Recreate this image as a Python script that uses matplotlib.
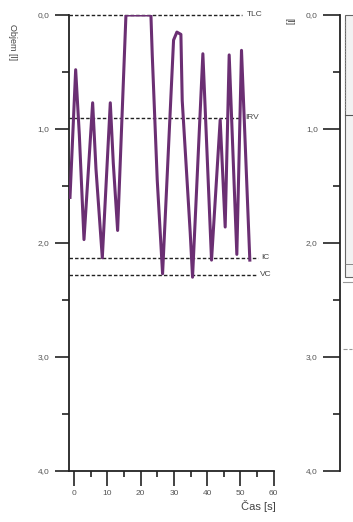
import numpy as np
import matplotlib
matplotlib.use("Agg")
import matplotlib.pyplot as plt
from matplotlib.ticker import MultipleLocator, FixedLocator
from matplotlib.patches import Rectangle

plt.rcParams['font.family'] = ['Liberation Sans', 'DejaVu Sans']

# spirogram (cas v s, objem v l, 0 = TLC)
cas = [-1.2, 0.5, 1.6, 3.0, 5.6, 6.6, 8.5, 10.9, 11.8, 13.1, 15.6,
       23.1, 23.5, 25.0, 26.6,
       29.9, 30.9, 32.1, 32.5, 34.9, 35.6, 38.7, 41.3, 43.9, 45.4,
       46.6, 48.9, 50.3, 52.8]
objem = [1.60, 0.48, 1.05, 1.97, 0.77, 1.35, 2.13, 0.77, 1.30, 1.89, 0.00,
         0.00, 0.35, 1.45, 2.27,
         0.22, 0.15, 0.17, 0.75, 1.91, 2.30, 0.34, 2.15, 0.92, 1.86,
         0.35, 2.10, 0.31, 2.15]

# referencni hladiny: nazev, objem, konec cary, pozice textu
hladiny = ["TLC", "IRV", "IC", "VC"]
hladiny_objem = [0.0, 0.90, 2.13, 2.28]
hladiny_konec = [50.5, 49.8, 55.3, 55.0]
hladiny_text = [52.0, 51.4, 56.2, 55.9]

y_popisky = ["0,0", "1,0", "2,0", "3,0", "4,0"]
x_popisky = [0, 10, 20, 30, 40, 50, 60]

W, H = 353, 522
fig = plt.figure(figsize=(W / 100, H / 100), dpi=100)
fig.patch.set_facecolor("white")

# hlavni graf
ax = fig.add_axes([69 / W, (H - 471) / H, 204.8 / W, 456 / H])
ax.set_xlim(-1.5, 60)
ax.set_ylim(4, 0)
ax.patch.set_alpha(0)

for s in ["top", "right"]:
    ax.spines[s].set_visible(False)
for s in ["left", "bottom"]:
    ax.spines[s].set_linewidth(1.3)
    ax.spines[s].set_color("#222222")

ax.plot(cas, objem, color="#6b2f73", lw=2.2, solid_joinstyle="round", zorder=3)

for nazev, v, konec, tx in zip(hladiny, hladiny_objem, hladiny_konec, hladiny_text):
    ax.plot([-1.5, konec], [v, v], color="#222222", lw=1.0,
            dashes=(2.5, 1.5), clip_on=False, zorder=2)
    ax.text(tx, v, nazev, fontsize=6, color="#444444", va="center",
            ha="left", clip_on=False)

ax.yaxis.set_major_locator(FixedLocator([0, 1, 2, 3, 4]))
ax.yaxis.set_minor_locator(MultipleLocator(0.5))
ax.set_yticklabels(y_popisky)
ax.xaxis.set_major_locator(FixedLocator(x_popisky))
ax.xaxis.set_minor_locator(MultipleLocator(5))
ax.set_xticklabels([str(x) for x in x_popisky])

ax.tick_params(axis="y", which="major", length=10, width=1.2, pad=4,
               labelsize=6, labelcolor="#555555", color="#222222")
ax.tick_params(axis="y", which="minor", length=5, width=1.2, color="#222222")
ax.tick_params(axis="x", which="major", length=11, width=1.2, pad=3,
               labelsize=6, labelcolor="#555555", color="#222222")
ax.tick_params(axis="x", which="minor", length=4, width=1.2, color="#222222")

fig.text(12 / W, 1 - 42 / H, "Objem [l]", rotation=-90, fontsize=6.5,
         color="#444444", ha="center", va="center")
fig.text(258 / W, 1 - 506 / H, "Čas [s]", fontsize=8, color="#444444",
         ha="center", va="center")

# zacatek vedlejsiho grafu (oriznuty)
ax2 = fig.add_axes([340 / W, (H - 471) / H, 40 / W, 456 / H])
ax2.set_xlim(0, 1)
ax2.set_ylim(4, 0)
ax2.patch.set_alpha(0)
for s in ["top", "right", "bottom"]:
    ax2.spines[s].set_visible(False)
ax2.spines["left"].set_linewidth(1.3)
ax2.spines["left"].set_color("#222222")
ax2.set_xticks([])
ax2.yaxis.set_major_locator(FixedLocator([0, 1, 2, 3, 4]))
ax2.yaxis.set_minor_locator(MultipleLocator(0.5))
ax2.set_yticklabels(y_popisky)
ax2.tick_params(axis="y", which="major", length=12, width=1.2, pad=4,
                labelsize=6, labelcolor="#555555", color="#222222")
ax2.tick_params(axis="y", which="minor", length=5, width=1.2, color="#222222")
ax2.add_patch(Rectangle((0.12, 0.0), 1.5, 2.3, facecolor="#f2f2f2",
                        edgecolor="#666666", lw=0.8, clip_on=False))
ax2.plot([0.12, 1.0], [0.88, 0.88], color="#555555", lw=0.8)
ax2.plot([0.12, 1.0], [2.18, 2.18], color="#777777", lw=0.6)
ax2.plot([0.12, 0.12], [0.05, 0.85], color="#888888", lw=0.8, ls=":")
ax2.plot([0.08, 0.3], [2.34, 2.34], color="#999999", lw=0.8)
ax2.plot([0.08, 0.3], [2.93, 2.93], color="#999999", lw=0.8, ls="--")

fig.text(289 / W, 1 - 22 / H, "[l]", rotation=-90, fontsize=6.5,
         color="#444444", ha="center", va="center")

fig.savefig("out.png", dpi=100, facecolor="white")
